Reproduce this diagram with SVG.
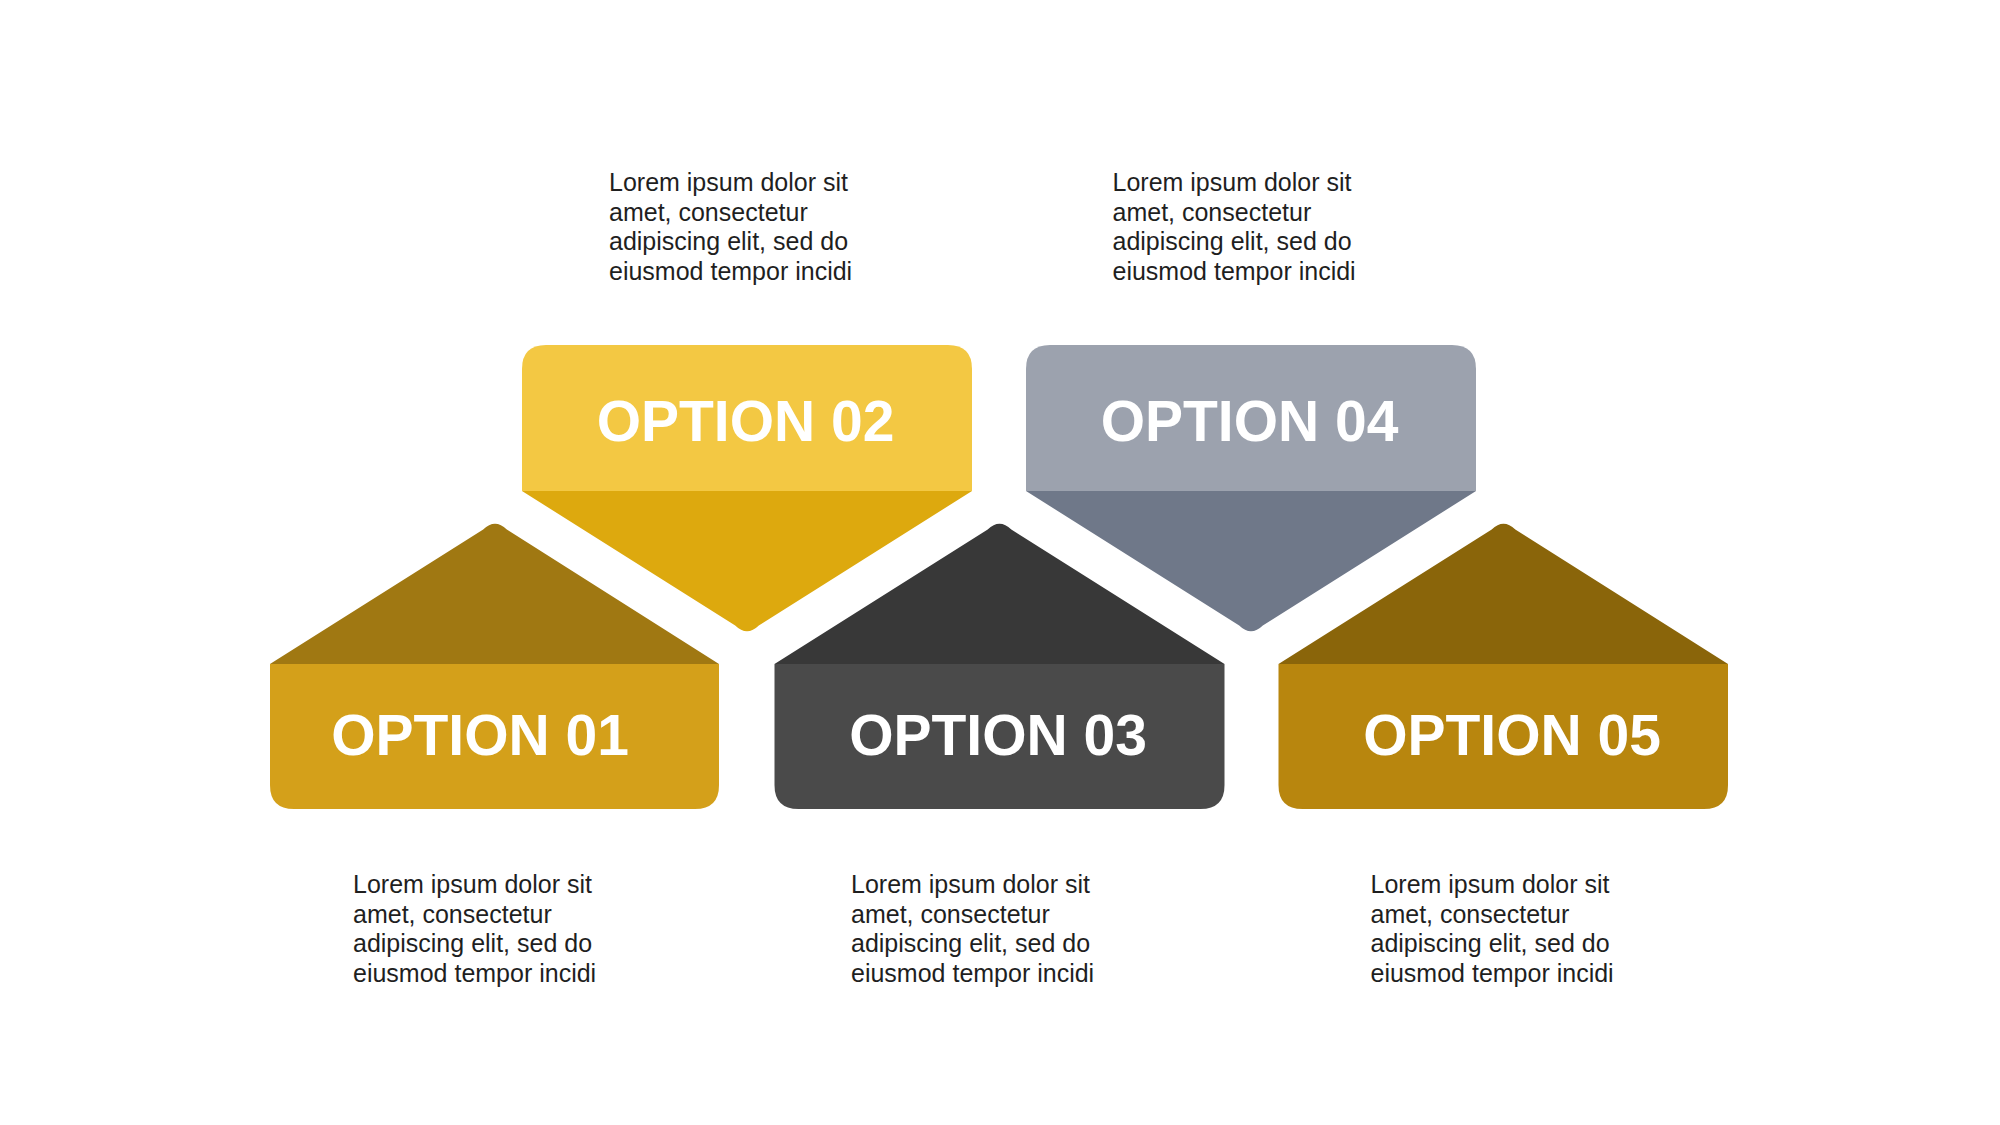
<svg xmlns="http://www.w3.org/2000/svg" width="2000" height="1125" viewBox="0 0 2000 1125">
<style>
.lbl{font-family:"Liberation Sans",Arial,sans-serif;font-weight:bold;font-size:57px;fill:#ffffff;text-anchor:middle}
.body{font-family:"Liberation Sans",Arial,sans-serif;font-size:25px;fill:#1f1f1f}
</style>
<rect x="0" y="0" width="2000" height="1125" fill="#ffffff"/>
<g id="option01">
<path d="M270,664 L483.2,529.5 Q495,518 506.8,529.5 L719,664 Z" fill="#A07812"/>
<path d="M270,664 H719 V785 Q719,809 695,809 H294 Q270,809 270,785 Z" fill="#D4A01A"/>
<text class="lbl" x="480" y="755">OPTION 01</text>
<text class="body" x="353" y="893">Lorem ipsum dolor sit</text>
<text class="body" x="353" y="922.7">amet, consectetur</text>
<text class="body" x="353" y="952.4">adipiscing elit, sed do</text>
<text class="body" x="353" y="982.1">eiusmod tempor incidi</text>
</g>
<g id="option02">
<path d="M522,491 L735.2,625.5 Q747,637 758.8,625.5 L972,491 Z" fill="#DDA90E"/>
<path d="M522,491 V369 Q522,345 546,345 H948 Q972,345 972,369 V491 Z" fill="#F3C843"/>
<text class="lbl" x="745.5" y="441">OPTION 02</text>
<text class="body" x="609" y="191">Lorem ipsum dolor sit</text>
<text class="body" x="609" y="220.7">amet, consectetur</text>
<text class="body" x="609" y="250.4">adipiscing elit, sed do</text>
<text class="body" x="609" y="280.1">eiusmod tempor incidi</text>
</g>
<g id="option03">
<path d="M774.5,664 L987.7,529.5 Q999.5,518 1011.3,529.5 L1224.5,664 Z" fill="#383838"/>
<path d="M774.5,664 H1224.5 V785 Q1224.5,809 1200.5,809 H798.5 Q774.5,809 774.5,785 Z" fill="#4A4A4A"/>
<text class="lbl" x="998" y="755">OPTION 03</text>
<text class="body" x="851" y="893">Lorem ipsum dolor sit</text>
<text class="body" x="851" y="922.7">amet, consectetur</text>
<text class="body" x="851" y="952.4">adipiscing elit, sed do</text>
<text class="body" x="851" y="982.1">eiusmod tempor incidi</text>
</g>
<g id="option04">
<path d="M1026,491 L1239.2,625.5 Q1251,637 1262.8,625.5 L1476,491 Z" fill="#6F7889"/>
<path d="M1026,491 V369 Q1026,345 1050,345 H1452 Q1476,345 1476,369 V491 Z" fill="#9CA2AE"/>
<text class="lbl" x="1249.5" y="441">OPTION 04</text>
<text class="body" x="1112.5" y="191">Lorem ipsum dolor sit</text>
<text class="body" x="1112.5" y="220.7">amet, consectetur</text>
<text class="body" x="1112.5" y="250.4">adipiscing elit, sed do</text>
<text class="body" x="1112.5" y="280.1">eiusmod tempor incidi</text>
</g>
<g id="option05">
<path d="M1278.5,664 L1491.7,529.5 Q1503.5,518 1515.3,529.5 L1728,664 Z" fill="#8A650A"/>
<path d="M1278.5,664 H1728 V785 Q1728,809 1704,809 H1302.5 Q1278.5,809 1278.5,785 Z" fill="#B8860E"/>
<text class="lbl" x="1512" y="755">OPTION 05</text>
<text class="body" x="1370.5" y="893">Lorem ipsum dolor sit</text>
<text class="body" x="1370.5" y="922.7">amet, consectetur</text>
<text class="body" x="1370.5" y="952.4">adipiscing elit, sed do</text>
<text class="body" x="1370.5" y="982.1">eiusmod tempor incidi</text>
</g>
<g id="connectors"></g>
</svg>
